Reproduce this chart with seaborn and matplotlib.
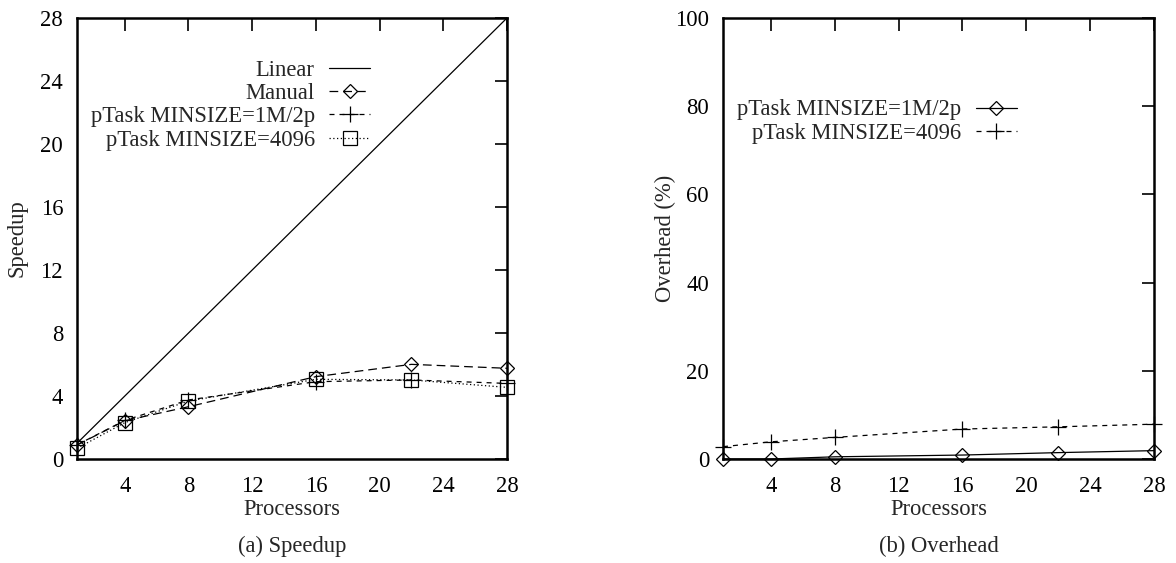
import matplotlib
matplotlib.use("Agg")
import matplotlib.pyplot as plt
import seaborn as sns

# processor counts
procs = [1, 4, 8, 16, 22, 28]

# speedup (a)
linear_x = [1, 28]
linear_y = [1, 28]
speedup_manual = [0.89, 2.43, 3.32, 5.23, 6.01, 5.76]
speedup_1m2p = [0.9, 2.45, 3.75, 4.91, 5.02, 4.8]
speedup_4096 = [0.68, 2.31, 3.68, 5.06, 5.02, 4.55]

# overhead (b)
overhead_1m2p = [0.0, 0.0, 0.5, 0.9, 1.45, 1.9]
overhead_4096 = [2.8, 3.9, 4.9, 6.8, 7.3, 7.9]

x_ticks = [4, 8, 12, 16, 20, 24, 28]
speedup_ticks = [0, 4, 8, 12, 16, 20, 24, 28]
overhead_ticks = [0, 20, 40, 60, 80, 100]

sns.set_style("white")
plt.rcParams['font.family'] = ['Liberation Serif', 'DejaVu Serif']

fig = plt.figure(figsize=(11.76, 5.63), dpi=100)
ax1 = fig.add_axes([0.0655, 0.1847, 0.3656, 0.7833])
ax2 = fig.add_axes([0.6148, 0.1847, 0.3665, 0.7833])

FS = 16.3
lw = 0.9
mk = dict(color="black", markerfacecolor="none", markeredgecolor="black",
          markeredgewidth=0.9, linewidth=lw, clip_on=False)

sns.lineplot(x=linear_x, y=linear_y, ax=ax1, color="black", linewidth=lw, label="Linear")
sns.lineplot(x=procs, y=speedup_manual, ax=ax1, marker="D", markersize=7,
             linestyle=(0, (7, 4)), label="Manual", **mk)
sns.lineplot(x=procs, y=speedup_1m2p, ax=ax1, marker="+", markersize=12,
             linestyle=(0, (4, 4)), label="pTask MINSIZE=1M/2p", **mk)
sns.lineplot(x=procs, y=speedup_4096, ax=ax1, marker="s", markersize=10,
             linestyle=(0, (1, 2)), label="pTask MINSIZE=4096", **mk)

sns.lineplot(x=procs, y=overhead_1m2p, ax=ax2, marker="D", markersize=7,
             linestyle="-", label="pTask MINSIZE=1M/2p", **mk)
sns.lineplot(x=procs, y=overhead_4096, ax=ax2, marker="+", markersize=12,
             linestyle=(0, (4, 4)), label="pTask MINSIZE=4096", **mk)

for ax, yt, ylim, ylab, ylx, cap in [
        (ax1, speedup_ticks, (0, 28), "Speedup", -0.116, "(a) Speedup"),
        (ax2, overhead_ticks, (0, 100), "Overhead (%)", -0.109, "(b) Overhead")]:
    ax.set_xlim(1, 28)
    ax.set_ylim(*ylim)
    ax.set_xticks(x_ticks)
    ax.set_yticks(yt)
    ax.tick_params(direction="in", length=9, width=1.2, labelsize=FS,
                   top=True, right=True, colors="black")
    ax.tick_params(axis="x", pad=12)
    ax.tick_params(axis="y", pad=10)
    for s in ax.spines.values():
        s.set_linewidth(1.8)
        s.set_color("black")
    ax.set_xlabel("Processors", fontsize=FS, labelpad=2)
    ax.set_ylabel(ylab, fontsize=FS)
    ax.yaxis.set_label_coords(ylx, 0.5)
    pos = ax.get_position()
    fig.text(pos.x0 + pos.width / 2, 0.030, cap, ha="center", va="center", fontsize=FS)

ax1.legend(loc="upper right", bbox_to_anchor=(0.708, 0.931), frameon=False,
           markerfirst=False, fontsize=FS, handlelength=1.8, handletextpad=0.65,
           labelspacing=0.1, borderpad=0)
ax2.legend(loc="upper right", bbox_to_anchor=(0.708, 0.841), frameon=False,
           markerfirst=False, fontsize=FS, handlelength=1.8, handletextpad=0.65,
           labelspacing=0.1, borderpad=0)

fig.savefig("out.png", dpi=100)
